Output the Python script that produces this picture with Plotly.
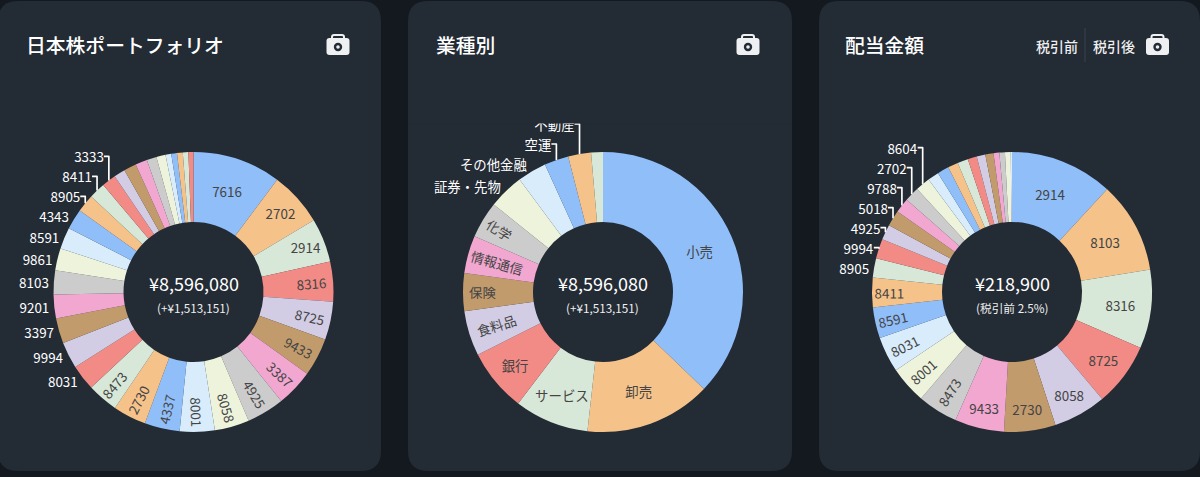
import plotly.graph_objects as go

W, H = 1200, 477
PALETTE = ["#90bef8", "#f5c28a", "#d8e8d8", "#f28b85", "#d2cde5", "#c29b6c", "#f2a7d0", "#cccccc", "#eef3dc", "#d8ecfb"]
CARD = "#232b35"
BG = "#14191f"
NUM_FONT = "'Noto Sans CJK JP'"

stock_labels = ["7616", "2702", "2914", "8316", "8725", "9433", "3387", "4925", "8058", "8001", "4337", "2730",
                "8473", "8031", "9994", "3397", "9201", "8103", "9861", "8591", "4343", "8905", "8411", "3333",
                "s25", "s26", "s27", "s28", "s29", "s30", "s31", "s32", "s33", "s34"]
stock_values = [876, 537, 435, 396, 380, 380, 368, 373, 344, 346, 349, 330, 306, 256, 263, 248, 236, 239, 220, 213,
                205, 177, 162, 141, 112, 124, 117, 98, 91, 57, 57, 57, 55, 50]
stock_shown = 24

sector_labels = ["小売", "卸売", "サービス", "銀行", "食料品", "保険", "情報通信", "化学", "証券・先物", "その他金融", "空運", "不動産", "他"]
sector_values = [3197, 1254, 738, 623, 447, 375, 373, 365, 351, 289, 241, 227, 117]
sector_shown = 12

div_labels = ["2914", "8103", "8316", "8725", "8058", "2730", "9433", "8473", "8001", "8031", "8591", "8411", "8905",
              "9994", "4925", "5018", "9788", "2702", "8604", "d20", "d21", "d22", "d23", "d24", "d25", "d26", "d27",
              "d28", "d29", "d30"]
div_values = [26022, 23043, 19942, 16051, 13376, 13011, 12464, 10154, 9424, 8998, 7782, 7478, 4864, 4986, 3891, 4013,
              3709, 3709, 3709, 2858, 2918, 2614, 2675, 2310, 2189, 2067, 1459, 1398, 1459, 304]
div_shown = 19

titles = ["日本株ポートフォリオ", "業種別", "配当金額"]
center_main = ["¥8,596,080", "¥8,596,080", "¥218,900"]
center_sub = ["(+¥1,513,151)", "(+¥1,513,151)", "(税引前 2.5%)"]
toggles = ["税引前", "税引後"]

centers = [193.5, 603.0, 1012.0]
CY, R = 292.0, 140.0


def px(x):
    return x / W


def py(y):
    return 1 - y / H


def rrect(x0, y0, x1, y1, r):
    a, b, c, d = px(x0), py(y0), px(x1), py(y1)
    rx, ry = r / W, r / H
    return (f"M{a + rx},{b} L{c - rx},{b} Q{c},{b} {c},{b - ry} L{c},{d + ry} Q{c},{d} {c - rx},{d} "
            f"L{a + rx},{d} Q{a},{d} {a},{d + ry} L{a},{b - ry} Q{a},{b} {a + rx},{b} Z")


def path_shape(p, color, layer="below"):
    return dict(type="path", xref="paper", yref="paper", path=p, fillcolor=color, line=dict(width=0), layer=layer)


def circle(cx, cy, r, color):
    return dict(type="circle", xref="paper", yref="paper", x0=px(cx - r), x1=px(cx + r), y0=py(cy + r), y1=py(cy - r),
                fillcolor=color, line=dict(width=0), layer="above")


def camera(cx, cy):
    return [
        dict(type="path", xref="paper", yref="paper", path=rrect(cx - 6, cy - 10, cx + 6, cy - 3, 2),
             fillcolor="rgba(0,0,0,0)", line=dict(color="#eef0f2", width=2), layer="above"),
        path_shape(rrect(cx - 11.5, cy - 7, cx + 11.5, cy + 10, 3), "#eef0f2", "above"),
        circle(cx, cy + 2, 4.2, CARD),
        circle(cx, cy + 2, 1.8, "#eef0f2"),
    ]


fig = go.Figure()

series = [(stock_labels, stock_values, stock_shown), (sector_labels, sector_values, sector_shown),
          (div_labels, div_values, div_shown)]
for (labels, values, shown), cx in zip(series, centers):
    fig.add_trace(go.Pie(
        labels=labels, values=values, hole=0.5, sort=False, direction="clockwise", rotation=0,
        marker=dict(colors=[PALETTE[i % 10] for i in range(len(labels))], line=dict(width=0)),
        textinfo="label", textposition=["auto" if i < shown else "none" for i in range(len(labels))],
        textfont=dict(size=13.4), showlegend=False, hoverinfo="label+percent",
        domain=dict(x=[px(cx - R), px(cx + R)], y=[py(CY + R), py(CY - R)]),
    ))

shapes = [
    path_shape(rrect(-2, 1, 381, 471, 20), CARD),
    path_shape(rrect(408, 1, 792, 471, 20), CARD),
    path_shape(rrect(819, 1, 1200, 471, 20), CARD),
    path_shape(rrect(410, 60, 790, 123.5, 0), CARD, "above"),
    dict(type="line", xref="paper", yref="paper", x0=px(1085), x1=px(1085), y0=py(28), y1=py(62),
         line=dict(color="#3a434e", width=1), layer="above"),
]
for cam_x, cam_y in [(338, 45), (748, 45), (1157.5, 45)]:
    shapes += camera(cam_x, cam_y)

annotations = []
for t, x in zip(titles, [24, 434, 843]):
    annotations.append(dict(text=t, x=px(x), y=py(45), xref="paper", yref="paper", xanchor="left", yanchor="middle",
                            showarrow=False, font=dict(family="'Noto Sans CJK JP'", size=19.8, color="#ffffff", weight=500)))
for m, s, cx in zip(center_main, center_sub, centers):
    annotations.append(dict(text=m, x=px(cx), y=py(283), xref="paper", yref="paper", xanchor="center", yanchor="middle",
                            showarrow=False, font=dict(family=NUM_FONT, size=18, color="#ffffff")))
    annotations.append(dict(text=s, x=px(cx), y=py(307), xref="paper", yref="paper", xanchor="center", yanchor="middle",
                            showarrow=False, font=dict(family=NUM_FONT, size=11.7, color="#f0f0f0")))
for t, x in zip(toggles, [1057, 1113.5]):
    annotations.append(dict(text=t, x=px(x), y=py(46), xref="paper", yref="paper", xanchor="center", yanchor="middle",
                            showarrow=False, font=dict(family="'Noto Sans CJK JP'", size=14, color="#f0f0f0", weight=500)))

fig.update_layout(
    width=W, height=H, margin=dict(l=0, r=0, t=0, b=0), autosize=False,
    paper_bgcolor=BG, plot_bgcolor=BG,
    font=dict(family=NUM_FONT, color="#ffffff", size=13.4),
    shapes=shapes, annotations=annotations,
)
fig.write_html("out.html", config=dict(displayModeBar=False),
               post_script="document.body.style.margin='0';document.body.style.overflow='hidden';document.body.style.background='#14191f';")
